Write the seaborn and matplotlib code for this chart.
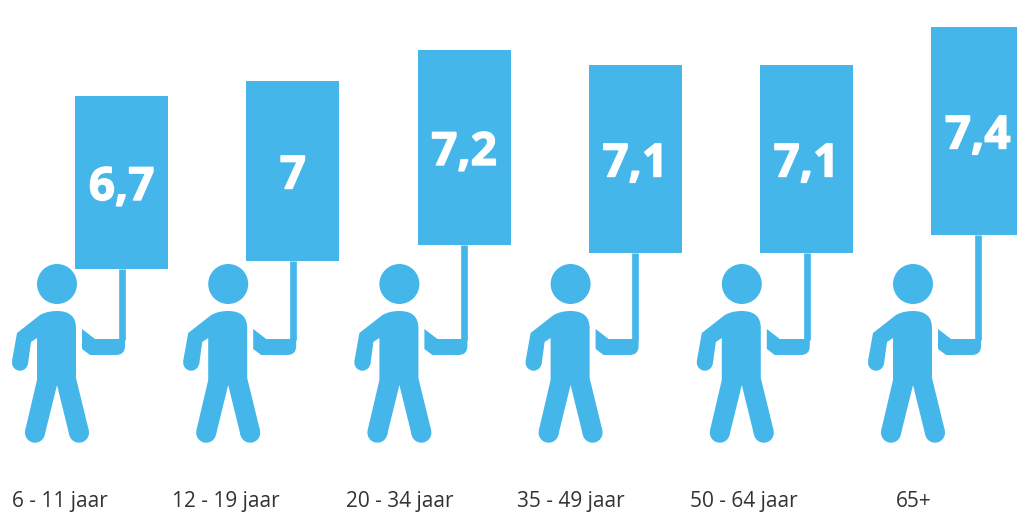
import numpy as np
import pandas as pd
import matplotlib.pyplot as plt
import seaborn as sns
import matplotlib.patheffects as pe
from matplotlib.path import Path
from matplotlib.patches import PathPatch

# data
age_groups = ['6 - 11 jaar', '12 - 19 jaar', '20 - 34 jaar', '35 - 49 jaar', '50 - 64 jaar', '65+']
scores = ['6,7', '7', '7,2', '7,1', '7,1', '7,4']
sign_top = [347, 362, 393, 378, 378, 416]
sign_bottom = [174, 182, 198, 190, 190, 208]

BLUE = '#44B6EA'
STEP = 171.2  # pixels between two figures

sns.set_theme(style='white')
plt.rcParams['font.family'] = ['Open Sans', 'DejaVu Sans']

df = pd.DataFrame({'group': age_groups, 'top': sign_top, 'bottom': sign_bottom})
df['height'] = df['top'] - df['bottom']

fig = plt.figure(figsize=(10.17, 5.12), dpi=100)
ax = fig.add_axes([0, 42 / 512, 1, 470 / 512])

# --- signs ---
sns.barplot(data=df, x='group', y='height', bottom=df['bottom'], width=93 / STEP,
            color=BLUE, saturation=1, linewidth=0, ax=ax)

ax.set_xlim(-121.7 / STEP, (1017 - 121.7) / STEP)
ax.set_ylim(-27, 443)


# --- person glyph, traced in pixels relative to the pole and the feet ---
def px(x, y):
    return (x - 121.7, 443 - y)


body = [
    (Path.MOVETO, (57, 311)),
    (Path.CURVE3, (76, 311)), (Path.CURVE3, (76, 328)),
    (Path.LINETO, (76, 378)),
    (Path.LINETO, (88.7, 430)),
    (Path.LINETO, (69.3, 435)),
    (Path.LINETO, (57, 385)),
    (Path.LINETO, (44.7, 435)),
    (Path.LINETO, (25.3, 430)),
    (Path.LINETO, (37, 380)),
    (Path.LINETO, (37, 338)),
    (Path.LINETO, (31, 342)),
    (Path.LINETO, (28, 364)),
    (Path.LINETO, (12, 361)),
    (Path.LINETO, (17, 333)),
    (Path.LINETO, (40, 315)),
    (Path.CURVE3, (47, 311)), (Path.CURVE3, (57, 311)),
    (Path.CLOSEPOLY, (57, 311)),
]
hand = [
    (Path.MOVETO, (82, 329)),
    (Path.LINETO, (95, 339)),
    (Path.LINETO, (118.4, 339)),
    (Path.LINETO, (125, 339)),
    (Path.LINETO, (125, 346)),
    (Path.CURVE3, (125, 355)), (Path.CURVE3, (116, 355)),
    (Path.LINETO, (90, 355)),
    (Path.LINETO, (82, 349)),
    (Path.CLOSEPOLY, (82, 329)),
]
# head, two feet and the hand of the lowered arm
circles = [(57, 284, 20), (35, 432.7, 10), (79, 432.7, 10), (20, 362.7, 8)]
unit = Path.unit_circle()

for i in range(len(age_groups)):
    for part in (body, hand):
        codes = [c for c, _ in part]
        verts = np.array([px(*v) for _, v in part], dtype=float)
        verts[:, 0] = i + verts[:, 0] / STEP
        ax.add_patch(PathPatch(Path(verts, codes), facecolor=BLUE, edgecolor='none'))
    for x, y, r in circles:
        cx, cy = px(x, y)
        verts = unit.vertices * [r / STEP, r] + [i + cx / STEP, cy]
        ax.add_patch(PathPatch(Path(verts, unit.codes), facecolor=BLUE, edgecolor='none'))

# --- poles ---
ax.vlines(range(len(age_groups)), 443 - 340, df['bottom'], color=BLUE, lw=4.8)

# --- score on each sign ---
for i, s in enumerate(scores):
    ax.text(i, (sign_top[i] + sign_bottom[i]) / 2 - 5, s, color='white', fontsize=33,
            fontweight='bold', ha='center', va='center',
            path_effects=[pe.withStroke(linewidth=1.0, foreground='white')])

# --- labels under the figures ---
label_shift = np.array([1, -4, -1, -1, 0, -1])
ax.set_xticks(np.arange(len(age_groups)) + (label_shift - 63) / STEP, age_groups)
ax.tick_params(axis='x', length=0, pad=15, labelsize=15, labelcolor='#333333')
ax.set_xlabel('')
ax.set_ylabel('')
ax.set_yticks([])
sns.despine(ax=ax, left=True, bottom=True)

fig.savefig('out.png', dpi=100)
